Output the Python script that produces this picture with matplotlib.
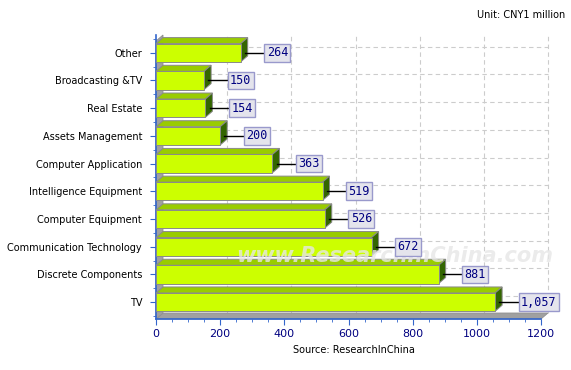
import matplotlib
matplotlib.use("Agg")
import matplotlib.pyplot as plt
from matplotlib.patches import Polygon

categories = ["TV", "Discrete Components", "Communication Technology",
              "Computer Equipment", "Intelligence Equipment", "Computer Application",
              "Assets Management", "Real Estate", "Broadcasting &TV", "Other"]
values = [1057, 881, 672, 526, 519, 363, 200, 154, 150, 264]
x_ticks = [0, 200, 400, 600, 800, 1000, 1200]

W, H = 571, 370
fig = plt.figure(figsize=(W / 100, H / 100), dpi=100)
ax_l, ax_r, ax_t, ax_b = 156, 541, 35, 319
ax = fig.add_axes([ax_l / W, 1 - ax_b / H, (ax_r - ax_l) / W, (ax_b - ax_t) / H])

xmax = 1200
ylo, yhi = -0.61, 9.64
ax.set_xlim(0, xmax)
ax.set_ylim(ylo, yhi)

# 3d depth in data units
px_x = (ax_r - ax_l) / xmax
px_y = (ax_b - ax_t) / (yhi - ylo)
dx = 7 / px_x
dy = 6 / px_y
bh = 0.66

# walls
floor = Polygon([(0, ylo), (xmax, ylo), (xmax + dx, ylo + dy), (dx, ylo + dy)],
                closed=True, fc="#a0a0a0", ec="#909090", lw=0.6, clip_on=False, zorder=1)
ax.add_patch(floor)
wall = Polygon([(0, ylo), (dx, ylo + dy), (dx, yhi), (0, yhi - dy)],
               closed=True, fc="#a0a0a0", ec="#909090", lw=0.6, clip_on=False, zorder=1)
ax.add_patch(wall)

# back wall grid
for t in x_ticks[1:]:
    ax.plot([t + dx, t + dx], [ylo + dy, yhi], ls=(0, (4, 3)), color="#cccccc", lw=0.8,
            clip_on=False, zorder=0)
for i in range(len(categories)):
    ax.plot([dx, xmax + dx], [i + dy, i + dy], ls=(0, (4, 3)), color="#cccccc", lw=0.8,
            clip_on=False, zorder=0)

# watermark
ax.text(745, 1.68, "www.ResearchInChina.com", ha="center", va="center",
        fontsize=15, style="italic", fontweight="bold", color="#e6e6e6", alpha=0.8, zorder=4.5)

# bars
for i, v in enumerate(values):
    y0, y1 = i - bh / 2, i + bh / 2
    top = Polygon([(0, y1), (v, y1), (v + dx, y1 + dy), (dx, y1 + dy)],
                  closed=True, fc="#99cc00", ec="#8a8a8a", lw=0.7, zorder=3)
    side = Polygon([(v, y0), (v + dx, y0 + dy), (v + dx, y1 + dy), (v, y1)],
                   closed=True, fc="#336600", ec="#8a8a8a", lw=0.7, zorder=3)
    front = Polygon([(0, y0), (v, y0), (v, y1), (0, y1)],
                    closed=True, fc="#ccff00", ec="#8a8a8a", lw=0.7, zorder=4)
    for p in (top, side, front):
        p.set_clip_on(False)
        ax.add_patch(p)
    # leader line and value box
    lx0 = v + dx * 0.6
    lx1 = v + 24 / px_x
    ax.plot([lx0, lx1], [i, i], color="black", lw=1, zorder=5, clip_on=False)
    ax.text(lx1 + 2 / px_x, i, f"{v:,}", ha="left", va="center", fontsize=8.5,
            family="DejaVu Sans Mono", color="#000080", zorder=6, clip_on=False,
            bbox=dict(boxstyle="square,pad=0.2", fc="#e4e4ec", ec="#9999cc", lw=1))

# axes styling
for s in ["top", "right"]:
    ax.spines[s].set_visible(False)
ax.spines["left"].set_color("#3366cc")
ax.spines["bottom"].set_color("#3366cc")
ax.spines["left"].set_linewidth(1.2)
ax.spines["bottom"].set_linewidth(1.2)
ax.set_xticks(x_ticks)
ax.set_xticks(range(0, 1201, 50), minor=True)
ax.tick_params(axis="x", colors="#3366cc", length=4, direction="out", labelcolor="#000080",
               labelsize=8)
ax.tick_params(axis="x", which="minor", colors="#3366cc", length=2)
ax.set_yticks(range(len(categories)))
ax.set_yticklabels(categories)
ax.set_yticks([i + 0.5 for i in range(-1, len(categories))], minor=True)
ax.tick_params(axis="y", colors="#3366cc", length=4, labelcolor="black", labelsize=7, pad=6)
ax.tick_params(axis="y", which="minor", colors="#3366cc", length=2)

fig.text(565 / W, 1 - 15 / H, "Unit: CNY1 million", ha="right", va="center", fontsize=7)
fig.text(354 / W, 1 - 350 / H, "Source: ResearchInChina", ha="center", va="center", fontsize=7)

fig.savefig("out.png", dpi=100)
